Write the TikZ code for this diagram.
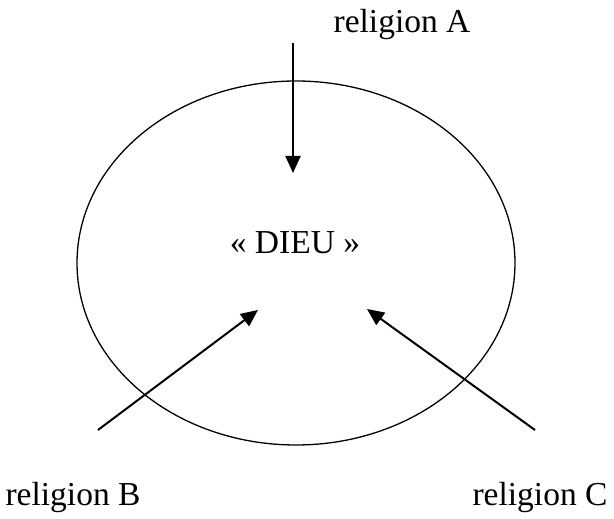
\documentclass[tikz,border=0pt]{standalone}
\usepackage{fontspec}
\setmainfont{Liberation Serif}
\usetikzlibrary{arrows.meta}
\begin{document}
\begin{tikzpicture}[x=1pt,y=1pt,
  lbl/.style={font=\fontsize{33.5}{38}\selectfont, inner sep=0pt},
  arr/.style={line width=2pt, -{Triangle[length=17pt,width=15pt]}}]
\useasboundingbox (0,0) rectangle (614,519);
\draw[line width=1.3pt] (296,256) ellipse [x radius=219, y radius=182];
\node[lbl] (dieu) at (295,276) {« DIEU »};
\node[lbl] (ra) at (402,494) {religion A};
\node[lbl] (rb) at (73,22) {religion B};
\node[lbl] (rc) at (540,22) {religion C};
\coordinate (a0) at (293,476);
\coordinate (a1) at (293,346);
\coordinate (b0) at (98,89);
\coordinate (b1) at (258,209);
\coordinate (c0) at (535,89);
\coordinate (c1) at (367,210);
\draw[arr] (a0) -- (a1);
\draw[arr] (b0) -- (b1);
\draw[arr] (c0) -- (c1);
\end{tikzpicture}
\end{document}
